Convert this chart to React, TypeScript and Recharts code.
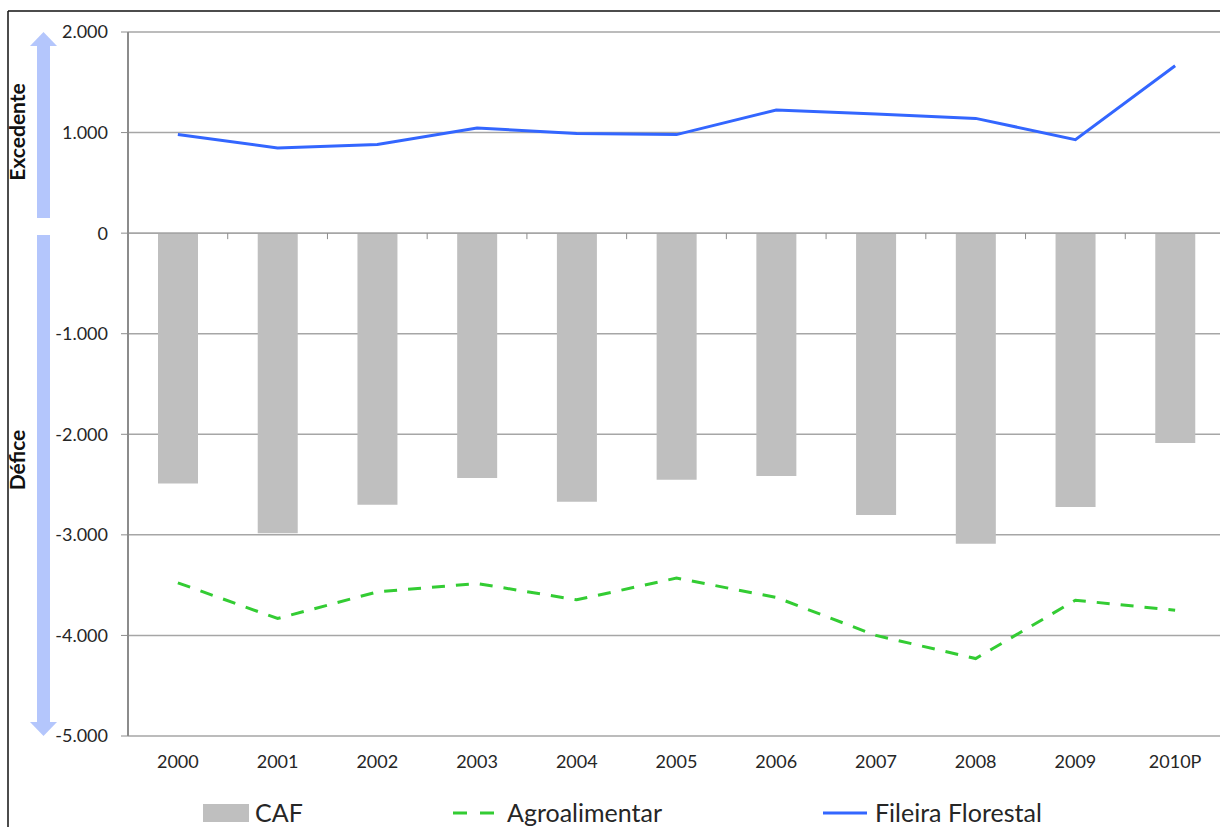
import { ComposedChart, Bar, Line, XAxis, YAxis, CartesianGrid, ReferenceLine } from 'recharts';

const years = ['2000', '2001', '2002', '2003', '2004', '2005', '2006', '2007', '2008', '2009', '2010P'];
const cafValues = [-2490, -2983, -2700, -2435, -2670, -2452, -2416, -2802, -3089, -2722, -2087];
const agroValues = [-3477, -3832, -3567, -3484, -3646, -3430, -3622, -4000, -4230, -3650, -3750];
const florestalValues = [980, 847, 881, 1046, 990, 980, 1224, 1184, 1141, 930, 1665];
const yTicks = [2000, 1000, 0, -1000, -2000, -3000, -4000, -5000];

const FONT = 'Lato, "Liberation Sans", sans-serif';
const GRID = '#a6a6a6';
const AXIS = '#8c8c8c';
const ARROW = '#b4c6fc';

const data = years.map((year, i) => ({
  year,
  caf: cafValues[i],
  agro: agroValues[i],
  florestal: florestalValues[i],
}));

// 2000 -> "2.000", -5000 -> "-5.000"
const fmt = (v: number) => {
  const abs = Math.abs(v).toString().replace(/\B(?=(\d{3})+(?!\d))/g, '.');
  return v < 0 ? `-${abs}` : abs;
};

// zero line with small category tick marks hanging below it
const ZeroLine = (props: any) => {
  const { x1, x2, y1 } = props;
  const n = years.length;
  const step = (x2 - x1) / n;
  return (
    <g>
      <line x1={x1} x2={x2} y1={y1} y2={y1} stroke={GRID} strokeWidth={1.5} />
      {Array.from({ length: n + 1 }, (_, i) => (
        <line key={i} x1={x1 + i * step} x2={x1 + i * step} y1={y1} y2={y1 + 6} stroke={AXIS} strokeWidth={1} />
      ))}
    </g>
  );
};

export default function App() {
  return (
    <div style={{ position: 'fixed', left: 0, top: 0, width: 1220, height: 827, overflow: 'hidden', background: '#fff', fontFamily: FONT }}>
      <div style={{ position: 'absolute', left: 0, top: 0 }}>
        <ComposedChart width={1240} height={827} data={data} margin={{ top: 32, right: 15, bottom: 51, left: 0 }}>
          <CartesianGrid vertical={false} stroke={GRID} strokeWidth={1.5} />
          <XAxis
            dataKey="year"
            axisLine={false}
            tickLine={false}
            tickSize={0}
            tickMargin={19}
            height={40}
            interval={0}
            tick={{ fontSize: 18, fill: '#262626', fontFamily: FONT }}
          />
          <YAxis
            width={128}
            domain={[-5000, 2000]}
            ticks={yTicks}
            interval={0}
            tickFormatter={fmt}
            axisLine={{ stroke: AXIS, strokeWidth: 2 }}
            tickLine={{ stroke: AXIS }}
            tickSize={7}
            tickMargin={13}
            tick={{ fontSize: 18, fill: '#262626', fontFamily: FONT }}
          />
          <ReferenceLine y={0} shape={ZeroLine} />
          <Bar dataKey="caf" fill="#bfbfbf" barSize={40} isAnimationActive={false} />
          <Line
            type="linear"
            dataKey="agro"
            stroke="#33cc33"
            strokeWidth={3}
            strokeDasharray="13 11"
            dot={false}
            isAnimationActive={false}
          />
          <Line type="linear" dataKey="florestal" stroke="#3366ff" strokeWidth={3} dot={false} isAnimationActive={false} />
        </ComposedChart>
      </div>

      <svg width={1220} height={827} style={{ position: 'absolute', left: 0, top: 0, pointerEvents: 'none' }} fontFamily={FONT}>
        {/* frame */}
        <line x1={8} x2={1220} y1={11} y2={11} stroke="#111" strokeWidth={1.5} />
        <line x1={8} x2={8} y1={11} y2={827} stroke="#111" strokeWidth={1.5} />

        {/* surplus / deficit arrows */}
        <rect x={37} y={46} width={13} height={172} fill={ARROW} />
        <polygon points="30,46 43.5,32 57,46" fill={ARROW} />
        <rect x={37} y={235} width={13} height={487} fill={ARROW} />
        <polygon points="30,722 57,722 43.5,736" fill={ARROW} />
        <text transform="translate(25,132) rotate(-90)" textAnchor="middle" fontSize={21} fontWeight="bold" fill="#111">
          Excedente
        </text>
        <text transform="translate(25,460) rotate(-90)" textAnchor="middle" fontSize={21} fontWeight="bold" fill="#111">
          Défice
        </text>

        {/* legend */}
        <rect x={203} y={804} width={46} height={18} fill="#bfbfbf" />
        <text x={255} y={822} fontSize={25} fill="#262626">CAF</text>
        <line x1={453} x2={494} y1={813} y2={813} stroke="#33cc33" strokeWidth={3} strokeDasharray="14 13" />
        <text x={507} y={822} fontSize={25} fill="#262626">Agroalimentar</text>
        <line x1={823} x2={867} y1={813} y2={813} stroke="#3366ff" strokeWidth={3} />
        <text x={875} y={822} fontSize={25} fill="#262626">Fileira Florestal</text>
      </svg>
    </div>
  );
}
